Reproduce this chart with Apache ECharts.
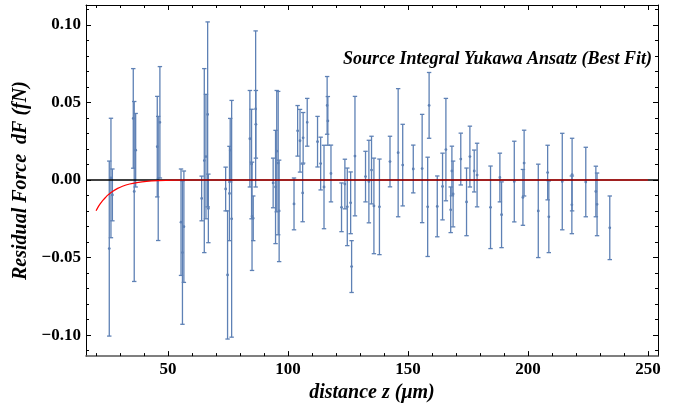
<!DOCTYPE html>
<html>
<head>
<meta charset="utf-8">
<script src="https://cdn.jsdelivr.net/npm/echarts@6/dist/echarts.min.js"></script>
<style>
html,body{margin:0;padding:0;background:#fff;}
#chart{width:678px;height:408px;}
</style>
</head>
<body>
<div id="chart"></div>
<script>
// ---- data ----
const zValues = [25.5,26.2,26.8,35.5,35.9,36.5,45.5,45.9,46.6,55.4,56.0,56.6,64.0,65.1,65.8,66.5,66.8,
  74.0,74.8,75.6,75.9,76.5,84.1,84.8,85.0,85.5,86.5,86.6,93.8,94.8,95.3,95.9,96.3,
  102.5,104.0,105.0,106.1,106.3,108.0,112.3,113.6,115.0,116.3,116.6,117.9,
  122.3,123.7,124.7,126.1,126.5,127.9,132.3,133.7,134.8,135.8,138.1,142.5,145.9,147.8,
  152.2,155.9,158.2,158.8,162.2,164.4,165.8,167.8,168.3,168.8,172.0,174.4,175.8,177.6,178.8,
  184.4,188.3,189.0,194.3,197.9,198.4,204.3,208.2,208.7,214.3,218.3,218.4,224.1,228.3,228.8,234.1];
const dfValues = [-0.0442,0.0013,-0.0096,0.0397,-0.0074,0.0192,0.0215,0.0010,0.0372,-0.0272,-0.0468,-0.0301,-0.0119,0.0125,0.0151,0.0423,-0.0183,
  -0.0058,-0.0612,-0.0087,0.0192,-0.0250,0.0266,0.0103,-0.0234,-0.0247,0.0458,0.0359,-0.0019,-0.0045,0.0186,0.0109,-0.0199,
  -0.0154,0.0317,0.0253,-0.0083,0.0272,0.0372,0.0247,0.0106,-0.0045,0.0481,0.0381,0.0042,
  -0.0176,-0.0026,-0.0173,-0.0147,-0.0558,0.0154,0.0022,-0.0010,0.0064,-0.0167,-0.0173,0.0119,0.0176,0.0096,
  0.0071,0.0074,-0.0173,0.0481,-0.0170,-0.0042,0.0196,-0.0192,0.0058,-0.0090,0.0135,-0.0141,0.0151,0.0058,0.0032,
  -0.0176,0.0016,-0.0224,-0.0010,-0.0112,0.0109,-0.0199,0.0048,-0.0237,-0.0010,-0.0160,0.0035,-0.0013,-0.0074,-0.0157,-0.0308];
const dfErrors = [0.0564,0.0385,0.0167,0.0321,0.0580,0.0237,0.0324,0.0400,0.0359,0.0343,0.0462,0.0359,0.0144,0.0593,0.0401,0.0596,0.0221,
  0.0141,0.0413,0.0304,0.0205,0.0763,0.0311,0.0353,0.0349,0.0144,0.0503,0.0218,0.0160,0.0365,0.0391,0.0462,0.0327,
  0.0167,0.0163,0.0202,0.0186,0.0163,0.0154,0.0163,0.0170,0.0269,0.0186,0.0157,0.0183,
  0.0157,0.0160,0.0250,0.0199,0.0167,0.0385,0.0163,0.0266,0.0218,0.0308,0.0308,0.0163,0.0413,0.0263,
  0.0154,0.0349,0.0320,0.0212,0.0196,0.0215,0.0330,0.0147,0.0160,0.0212,0.0167,0.0218,0.0196,0.0135,0.0205,
  0.0266,0.0157,0.0212,0.0260,0.0180,0.0212,0.0301,0.0176,0.0231,0.0311,0.0186,0.0234,0.0224,0.0163,0.0202,0.0205];

// best-fit Yukawa curve
const fitZ  = [20, 21, 22, 23, 24, 25, 27, 29, 31, 34, 37, 41, 46, 52, 60, 250];
const fitDF = [-0.0198,-0.0170,-0.0148,-0.0128,-0.0111,-0.0096,-0.0072,-0.0054,-0.0040,-0.0026,-0.0017,-0.0009,-0.0004,-0.0001,0,0];

// ticks
const xMajorTicks = [50,100,150,200,250];
const xMinorTicks = [20,30,40,60,70,80,90,110,120,130,140,160,170,180,190,210,220,230,240];
const yMajorTicks = [-0.10,-0.05,0,0.05,0.10];
const yMinorTicks = [-0.11,-0.09,-0.08,-0.07,-0.06,-0.04,-0.03,-0.02,-0.01,0.01,0.02,0.03,0.04,0.06,0.07,0.08,0.09,0.11];

const titleText = 'Source Integral Yukawa Ansatz (Best Fit)';
const xTitle = 'distance z (\u03bcm)';
const yTitle = 'Residual Force  dF (fN)';

const X_MIN = 15.8, X_MAX = 254.2, Y_MIN = -0.1135, Y_MAX = 0.1128;
const BAR_COLOR = '#5E81B5';
const SERIF = '"Liberation Serif","Times New Roman",serif';

const barData = zValues.map((z, i) => [z, dfValues[i], dfErrors[i]]);
const fitData = fitZ.map((z, i) => [z, fitDF[i]]);

function xAx(pos, ticks, len, labels, line, name) {
  return {
    type: 'value', position: pos, min: X_MIN, max: X_MAX, gridIndex: 0, offset: 0,
    name: name || '', nameLocation: 'middle', nameGap: 22,
    nameTextStyle: {fontFamily: SERIF, fontSize: 20, fontWeight: 'bold', fontStyle: 'italic', color: '#000'},
    axisLine: {show: line, onZero: false, lineStyle: {color: pos === 'bottom' ? '#555' : '#000', width: pos === 'bottom' ? 1.6 : 1}},
    axisTick: {show: true, inside: true, length: len, customValues: ticks, lineStyle: {color: '#000', width: 1}},
    axisLabel: {show: labels, customValues: ticks, margin: 5, fontFamily: SERIF, fontSize: 17, fontWeight: 'bold', color: '#000'},
    splitLine: {show: false}
  };
}
function yAx(pos, ticks, len, labels, line, name) {
  return {
    type: 'value', position: pos, min: Y_MIN, max: Y_MAX, gridIndex: 0, offset: 0,
    name: name || '', nameLocation: 'middle', nameGap: 50,
    nameTextStyle: {fontFamily: SERIF, fontSize: 20, fontWeight: 'bold', fontStyle: 'italic', color: '#000'},
    axisLine: {show: line, onZero: false, lineStyle: {color: '#000', width: 1}},
    axisTick: {show: true, inside: true, length: len, customValues: ticks, lineStyle: {color: '#000', width: 1}},
    axisLabel: {show: labels, customValues: ticks, margin: 5, fontFamily: SERIF, fontSize: 17, fontWeight: 'bold', color: '#000',
      formatter: v => (v < -1e-9 ? '\u2212' : '') + Math.abs(v).toFixed(2)},
    splitLine: {show: false}
  };
}

const chart = echarts.init(document.getElementById('chart'), null, {renderer: 'canvas'});
chart.setOption({
  animation: false,
  backgroundColor: '#fff',
  grid: {left: 86, right: 20, top: 5, bottom: 50, containLabel: false},
  title: {
    text: titleText, right: 21, top: 45,
    textStyle: {fontFamily: SERIF, fontSize: 18, fontWeight: 'bold', fontStyle: 'italic', color: '#000'}
  },
  xAxis: [
    xAx('bottom', xMajorTicks, 5, true, true, xTitle),
    xAx('bottom', xMinorTicks, 3, false, false),
    xAx('top', xMajorTicks, 5, false, true),
    xAx('top', xMinorTicks, 3, false, false)
  ],
  yAxis: [
    yAx('left', yMajorTicks, 5, true, true, yTitle),
    yAx('left', yMinorTicks, 3, false, false),
    yAx('right', yMajorTicks, 5, false, true),
    yAx('right', yMinorTicks, 3, false, false)
  ],
  series: [
    {
      type: 'custom', name: 'residuals', xAxisIndex: 0, yAxisIndex: 0,
      data: barData, z: 2,
      renderItem: function (params, api) {
        const x = api.value(0), y = api.value(1), e = api.value(2);
        const top = api.coord([x, y + e]);
        const bot = api.coord([x, y - e]);
        const mid = api.coord([x, y]);
        const cw = 2.2;
        const st = {stroke: BAR_COLOR, lineWidth: 1.3};
        return {
          type: 'group',
          children: [
            {type: 'line', shape: {x1: top[0], y1: top[1], x2: bot[0], y2: bot[1]}, style: st},
            {type: 'line', shape: {x1: top[0] - cw, y1: top[1], x2: top[0] + cw, y2: top[1]}, style: st},
            {type: 'line', shape: {x1: bot[0] - cw, y1: bot[1], x2: bot[0] + cw, y2: bot[1]}, style: st},
            {type: 'circle', shape: {cx: mid[0], cy: mid[1], r: 1.4}, style: {fill: BAR_COLOR}}
          ]
        };
      }
    },
    {
      type: 'line', name: 'fit', xAxisIndex: 0, yAxisIndex: 0,
      data: fitData, smooth: 0.4, showSymbol: false, z: 4,
      lineStyle: {color: '#FF0000', width: 1.2},
      markLine: {
        silent: true, symbol: ['none', 'none'], label: {show: false}, z: 3,
        lineStyle: {color: '#000', width: 1.6, type: 'solid'},
        data: [{yAxis: 0}]
      }
    }
  ]
});
</script>
</body>
</html>
